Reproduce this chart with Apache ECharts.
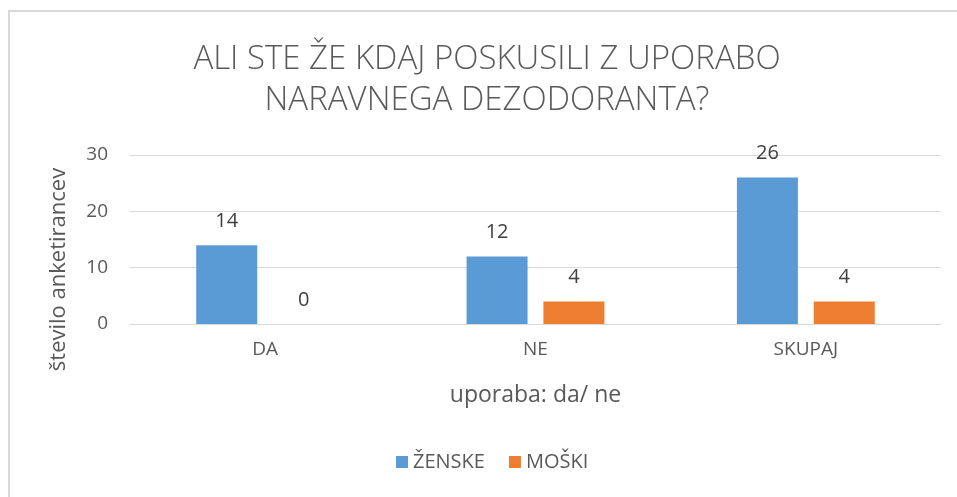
<!DOCTYPE html>
<html>
<head>
<meta charset="utf-8">
<script src="https://cdn.jsdelivr.net/npm/echarts@6/dist/echarts.min.js"></script>
<style>
  html, body { margin: 0; padding: 0; background: #fff; }
  #chart { width: 957px; height: 497px; }
</style>
</head>
<body>
<div id="chart"></div>
<script>
const categories = ['DA', 'NE', 'SKUPAJ']
const zenske = [14, 12, 26]
const moski = [0, 4, 4]
const yTicks = { min: 0, max: 30, interval: 10 }

const textColor = '#595959'
const font = '"Open Sans", sans-serif'

const chart = echarts.init(document.getElementById('chart'))

const labelStyle = {
  show: true,
  position: 'top',
  distance: 14,
  color: '#404040',
  fontSize: 20,
  fontFamily: font
}

chart.setOption({
  backgroundColor: '#fff',
  animation: false,
  title: {
    text: 'ALI STE ŽE KDAJ POSKUSILI Z UPORABO\nNARAVNEGA DEZODORANTA?',
    left: 487,
    textAlign: 'center',
    top: 39,
    padding: 0,
    textStyle: {
      color: textColor,
      fontSize: 33,
      fontWeight: 300,
      fontFamily: font,
      lineHeight: 41
    }
  },
  graphic: [
    {
      type: 'rect',
      shape: { x: 9, y: 11, width: 960, height: 500 },
      style: { fill: 'none', stroke: '#d9d9d9', lineWidth: 2 },
      silent: true
    }
  ],
  legend: {
    bottom: 25,
    left: 396,
    padding: 0,
    itemWidth: 12,
    itemHeight: 12,
    itemGap: 24,
    icon: 'rect',
    textStyle: { color: textColor, fontSize: 20, fontFamily: font }
  },
  grid: { left: 130, right: 16, top: 155, bottom: 173 },
  xAxis: {
    type: 'category',
    data: categories,
    name: 'uporaba: da/ ne',
    nameLocation: 'middle',
    nameGap: 60,
    nameTextStyle: { color: textColor, fontSize: 23, fontFamily: font },
    axisLine: { lineStyle: { color: '#d9d9d9' } },
    axisTick: { show: false },
    axisLabel: { color: textColor, fontSize: 19, fontFamily: font, margin: 16 }
  },
  yAxis: {
    type: 'value',
    min: yTicks.min,
    max: yTicks.max,
    interval: yTicks.interval,
    name: 'število anketirancev',
    nameLocation: 'middle',
    nameGap: 60,
    nameTextStyle: {
      color: textColor,
      fontSize: 22,
      fontFamily: font,
      padding: [0, 60, 0, 0]
    },
    axisLine: { show: false },
    axisTick: { show: false },
    axisLabel: { color: textColor, fontSize: 19, fontFamily: font, margin: 22 },
    splitLine: { lineStyle: { color: '#d9d9d9' } }
  },
  series: [
    {
      name: 'ŽENSKE',
      type: 'bar',
      data: zenske,
      barWidth: 61,
      barGap: '26%',
      itemStyle: { color: '#5b9bd5' },
      label: labelStyle
    },
    {
      name: 'MOŠKI',
      type: 'bar',
      data: moski,
      barWidth: 61,
      itemStyle: { color: '#ed7d31' },
      label: labelStyle
    }
  ]
})

window.addEventListener('resize', () => chart.resize())
</script>
</body>
</html>
